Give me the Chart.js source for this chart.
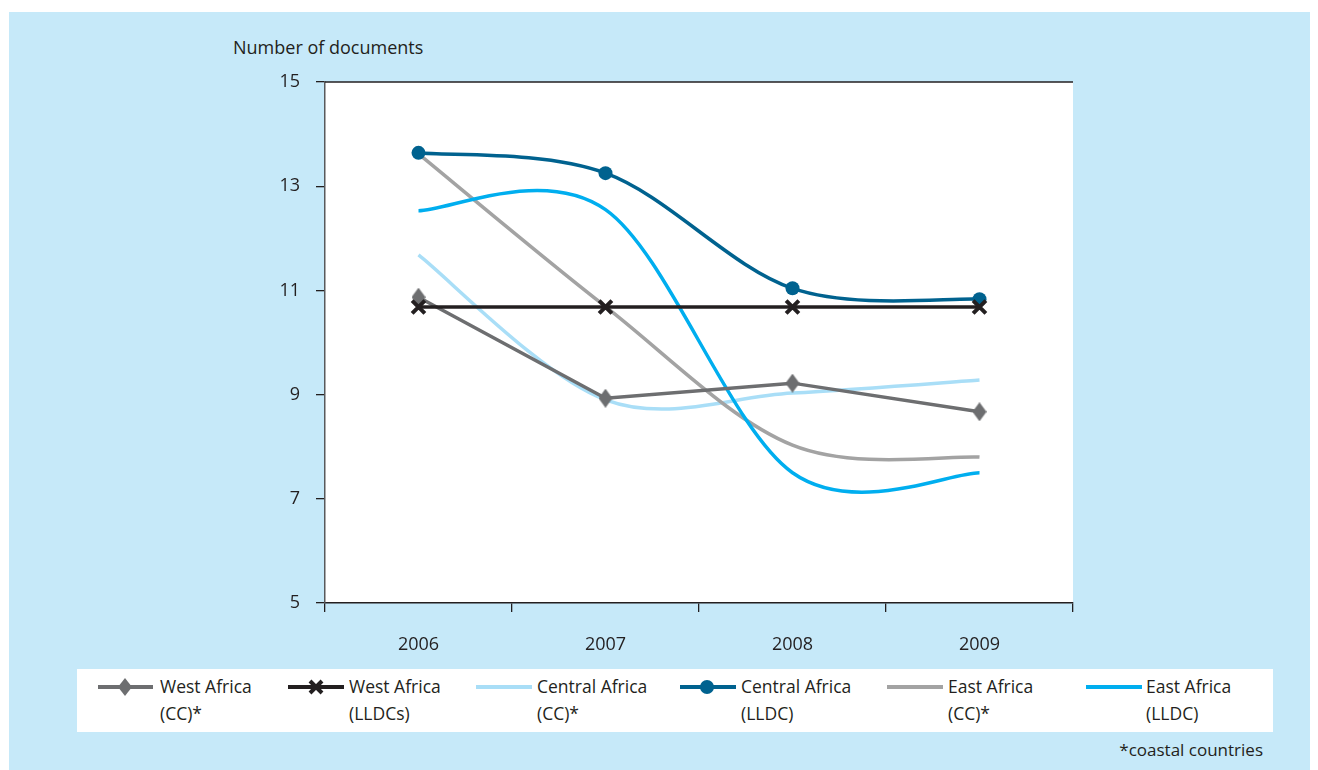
<!DOCTYPE html>
<html>
<head>
<meta charset="utf-8">
<script src="https://cdn.jsdelivr.net/npm/chart.js@4/dist/chart.umd.min.js"></script>
<style>
  html, body { margin:0; padding:0; background:#ffffff; width:1318px; height:770px; overflow:hidden; font-family:"Open Sans", sans-serif; color:#231f20; }
  #panel { position:absolute; left:9px; top:12px; width:1301px; height:758px; background:#c6e9f9; }
  #chartWrap { position:absolute; left:0; top:0; width:1318px; height:660px; }
  #ytitle { position:absolute; left:233px; top:35px; font-size:18px; line-height:24px; white-space:nowrap; }
  #legend { position:absolute; left:77px; top:669px; width:1196px; height:63px; background:#ffffff; }
  .item { position:absolute; top:0; height:63px; }
  .item svg { position:absolute; top:8px; }
  .item .txt { position:absolute; top:4px; font-size:17.5px; line-height:27px; white-space:nowrap; }
  #foot { position:absolute; right:55px; top:738px; font-size:17px; line-height:24px; white-space:nowrap; }
</style>
</head>
<body>
<div id="panel"></div>
<div id="ytitle">Number of documents</div>
<div id="chartWrap"><canvas id="c" width="1318" height="660"></canvas></div>
<div id="legend"></div>
<div id="foot">*coastal countries</div>
<script>
// ---- data ----
const years = ['2006', '2007', '2008', '2009'];
const yTicks = [5, 7, 9, 11, 13, 15];
const westAfricaCC = [10.87, 8.93, 9.22, 8.67];
const westAfricaLLDC = [10.68, 10.68, 10.68, 10.68];
const centralAfricaCC = [11.68, 8.9, 9.03, 9.28];
const centralAfricaLLDC = [13.64, 13.25, 11.04, 10.83];
const eastAfricaCC = [13.62, 10.69, 8.03, 7.8];
const eastAfricaLLDC = [12.53, 12.55, 7.5, 7.5];
const seriesNames = [['West Africa', '(CC)*'], ['West Africa', '(LLDCs)'], ['Central Africa', '(CC)*'], ['Central Africa', '(LLDC)'], ['East Africa', '(CC)*'], ['East Africa', '(LLDC)']];

// ---- styles ----
const C_WCC = '#6d6e70', C_WLL = '#231f20', C_CCC = '#a9def7', C_CLL = '#00628f', C_ECC = '#a3a3a3', C_ELL = '#00aeef';

// tall diamond marker
const diamond = document.createElement('canvas');
diamond.width = 14; diamond.height = 19;
(function(){ const g = diamond.getContext('2d'); g.fillStyle = C_WCC; g.beginPath(); g.moveTo(7,0); g.lineTo(14,9.5); g.lineTo(7,19); g.lineTo(0,9.5); g.closePath(); g.fill(); })();

const plotBg = {
  id: 'plotBg',
  beforeDraw(chart) {
    const {ctx, chartArea: a} = chart;
    ctx.save();
    ctx.fillStyle = '#ffffff';
    ctx.fillRect(a.left, a.top, a.right - a.left, a.bottom - a.top);
    ctx.restore();
  },
  afterDraw(chart) {
    const {ctx, chartArea: a} = chart;
    ctx.save();
    ctx.strokeStyle = '#231f20';
    ctx.lineWidth = 1.5;
    ctx.beginPath();
    ctx.moveTo(a.left, a.top);
    ctx.lineTo(a.right, a.top);
    ctx.stroke();
    ctx.restore();
  }
};

// Uniform Catmull-Rom style smoothing (spreadsheet-like) applied to the library's own points
const smoothCurves = {
  id: 'smoothCurves',
  beforeDatasetDraw(chart, args) {
    const meta = args.meta;
    const ds = chart.data.datasets[args.index];
    if (!ds.smooth || !meta.dataset) return;
    const line = meta.dataset;
    if (line.updateControlPoints) line.updateControlPoints(chart.chartArea, 'x');
    const pts = meta.data;
    const k = 1 / 6;
    for (let i = 0; i < pts.length; i++) {
      const p = pts[i];
      const prev = pts[Math.max(0, i - 1)];
      const next = pts[Math.min(pts.length - 1, i + 1)];
      const dx = next.x - prev.x, dy = next.y - prev.y;
      p.cp1x = p.x - k * dx; p.cp1y = p.y - k * dy;
      p.cp2x = p.x + k * dx; p.cp2y = p.y + k * dy;
    }
    line._path = undefined;
  }
};

Chart.defaults.font.family = '"Open Sans", sans-serif';
Chart.defaults.color = '#231f20';

new Chart(document.getElementById('c'), {
  type: 'line',
  data: {
    labels: years,
    datasets: [
      { label: 'West Africa (CC)*', data: westAfricaCC, borderColor: C_WCC, backgroundColor: C_WCC, borderWidth: 3.5, tension: 0, pointStyle: diamond, pointRadius: 8, order: 2 },
      { label: 'West Africa (LLDCs)', data: westAfricaLLDC, borderColor: C_WLL, backgroundColor: C_WLL, borderWidth: 3.5, tension: 0, pointStyle: 'crossRot', pointRadius: 9, pointBorderWidth: 4, order: 1 },
      { label: 'Central Africa (CC)*', data: centralAfricaCC, borderColor: C_CCC, backgroundColor: C_CCC, borderWidth: 3.5, tension: 0.4, smooth: true, pointRadius: 0, order: 6 },
      { label: 'Central Africa (LLDC)', data: centralAfricaLLDC, borderColor: C_CLL, backgroundColor: C_CLL, borderWidth: 3.5, tension: 0.4, smooth: true, pointStyle: 'circle', pointRadius: 7, pointBorderWidth: 0, order: 3 },
      { label: 'East Africa (CC)*', data: eastAfricaCC, borderColor: C_ECC, backgroundColor: C_ECC, borderWidth: 3.5, tension: 0.4, smooth: true, pointRadius: 0, order: 5 },
      { label: 'East Africa (LLDC)', data: eastAfricaLLDC, borderColor: C_ELL, backgroundColor: C_ELL, borderWidth: 3.5, tension: 0.4, smooth: true, pointRadius: 0, order: 4 }
    ]
  },
  options: {
    responsive: false,
    devicePixelRatio: 1,
    animation: false,
    events: [],
    layout: { padding: { left: 265, right: 245, top: 82, bottom: 7 } },
    plugins: { legend: { display: false }, tooltip: { enabled: false } },
    scales: {
      x: {
        type: 'category',
        offset: true,
        grid: { offset: true, drawOnChartArea: false, tickLength: 9, color: '#231f20', lineWidth: 1.3 },
        border: { color: '#231f20', width: 1.5 },
        ticks: { font: { size: 18 }, padding: 22, maxRotation: 0 },
        afterFit(s) { s.height = 50; }
      },
      y: {
        min: 5, max: 15,
        afterBuildTicks(s) { s.ticks = yTicks.map(v => ({ value: v })); },
        grid: { drawOnChartArea: false, tickLength: 9, color: '#231f20', lineWidth: 1.3 },
        border: { color: '#58595b', width: 1.5 },
        ticks: { font: { size: 18 }, padding: 16 },
        afterFit(s) { s.width = 60; }
      }
    }
  },
  plugins: [plotBg, smoothCurves]
});

// ---- legend (HTML) ----
const legendIcons = [
  { x1: 98, x2: 153, color: C_WCC, marker: 'diamond', mx: 125 },
  { x1: 288, x2: 344, color: C_WLL, marker: 'x', mx: 316 },
  { x1: 476, x2: 532, color: C_CCC, marker: null },
  { x1: 680, x2: 736, color: C_CLL, marker: 'circle', mx: 707 },
  { x1: 887, x2: 943, color: C_ECC, marker: null },
  { x1: 1086, x2: 1142, color: C_ELL, marker: null }
];
const textX = [160, 349, 537, 741, 948, 1146];
const legend = document.getElementById('legend');
const L0 = 77;
legendIcons.forEach((ic, i) => {
  const it = document.createElement('div');
  it.className = 'item';
  it.style.left = (ic.x1 - L0) + 'px';
  const w = ic.x2 - ic.x1;
  let m = '';
  const cx = (ic.mx || 0) - ic.x1;
  if (ic.marker === 'diamond') m = `<polygon points="${cx},1 ${cx+7},10 ${cx},19 ${cx-7},10" fill="${ic.color}"/>`;
  if (ic.marker === 'x') m = `<path d="M${cx-6},4 L${cx+6},16 M${cx+6},4 L${cx-6},16" stroke="${ic.color}" stroke-width="4"/>`;
  if (ic.marker === 'circle') m = `<circle cx="${cx}" cy="10" r="7" fill="${ic.color}"/>`;
  it.innerHTML = `<svg width="${w}" height="20" style="left:0"><line x1="0" y1="10" x2="${w}" y2="10" stroke="${ic.color}" stroke-width="4"/>${m}</svg>` +
    `<div class="txt" style="left:${textX[i] - ic.x1}px">${seriesNames[i][0]}<br>${seriesNames[i][1]}</div>`;
  legend.appendChild(it);
});
</script>
</body>
</html>
